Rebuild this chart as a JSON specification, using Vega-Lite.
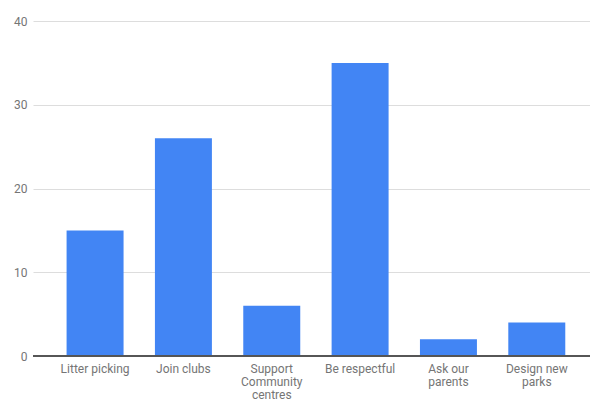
{
  "$schema": "https://vega.github.io/schema/vega-lite/v6.json",
  "width": 557,
  "height": 335,
  "autosize": {"type": "none"},
  "padding": {"left": 33, "top": 21, "right": 0, "bottom": 49},
  "background": "white",
  "config": {"view": {"stroke": null}, "font": "Roboto"},
  "data": {
    "values": [
      {"activity": "Litter picking", "count": 15},
      {"activity": "Join clubs", "count": 26},
      {"activity": "Support Community centres", "count": 6},
      {"activity": "Be respectful", "count": 35},
      {"activity": "Ask our parents", "count": 2},
      {"activity": "Design new parks", "count": 4}
    ]
  },
  "layer": [
    {
      "mark": {"type": "bar", "color": "#4285F4"},
      "encoding": {
        "x": {
          "field": "activity",
          "type": "nominal",
          "sort": null,
          "scale": {"paddingInner": 0.355, "paddingOuter": 0.33, "align": 0.576},
          "axis": {
            "title": null,
            "labelAngle": 0,
            "ticks": false,
            "domain": false,
            "labelColor": "#757575",
            "labelFontSize": 12,
            "labelPadding": 7,
            "labelLineHeight": 13,
            "labelExpr": "datum.value == 'Support Community centres' ? ['Support', 'Community', 'centres'] : datum.value == 'Ask our parents' ? ['Ask our', 'parents'] : datum.value == 'Design new parks' ? ['Design new', 'parks'] : datum.value"
          }
        },
        "y": {
          "field": "count",
          "type": "quantitative",
          "scale": {"domain": [0, 40]},
          "axis": {
            "title": null,
            "values": [0, 10, 20, 30, 40],
            "ticks": false,
            "domain": false,
            "gridColor": "#dddddd",
            "labelColor": "#757575",
            "labelFontSize": 12,
            "labelPadding": 6
          }
        }
      }
    },
    {
      "mark": {"type": "rule", "color": "#555555", "strokeWidth": 1},
      "encoding": {"y": {"datum": 0, "type": "quantitative"}}
    }
  ]
}
